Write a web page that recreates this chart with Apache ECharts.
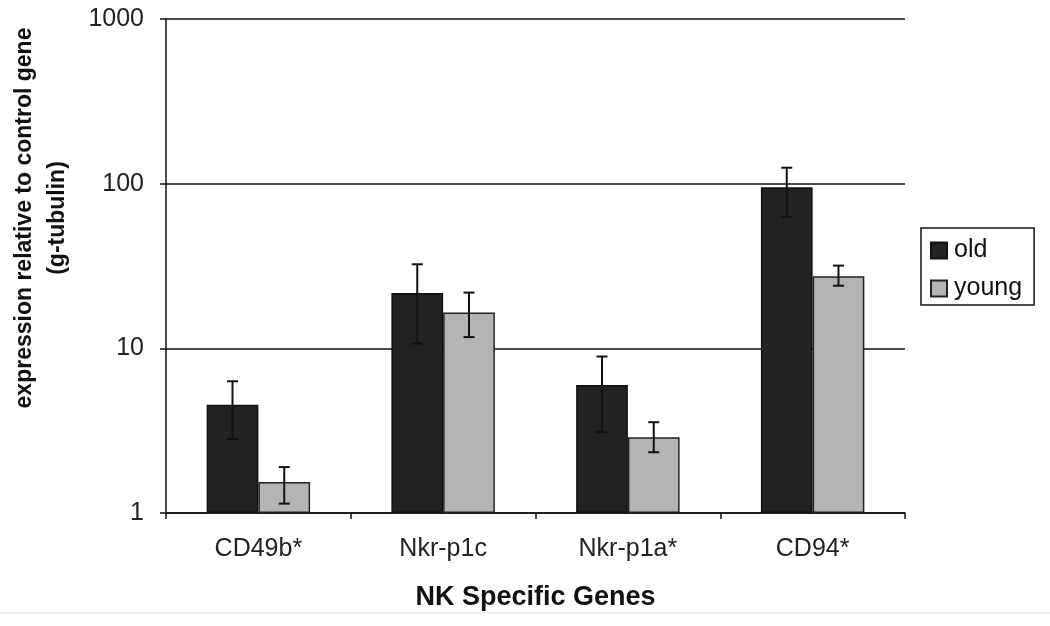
<!DOCTYPE html>
<html>
<head>
<meta charset="utf-8">
<script src="https://cdn.jsdelivr.net/npm/echarts@6/dist/echarts.min.js"></script>
<style>
  html, body { margin: 0; padding: 0; background: #ffffff; }
  #chart { width: 1050px; height: 626px; }
</style>
</head>
<body>
<div id="chart"></div>
<script>
const categories = ['CD49b*', 'Nkr-p1c', 'Nkr-p1a*', 'CD94*'];
const oldValues = [4.55, 21.7, 5.98, 95.1];
const oldLow = [2.81, 10.7, 3.11, 62.9];
const oldHigh = [6.31, 32.4, 8.92, 125];
const youngValues = [1.54, 16.5, 2.88, 27.4];
const youngLow = [1.14, 11.7, 2.34, 24.0];
const youngHigh = [1.90, 21.8, 3.56, 31.8];
const yTicks = [1, 10, 100, 1000];

const FONT = '"Liberation Sans", Arial, sans-serif';
const BAR_CAT_GAP = 0.44;

function errData(low, high) {
  return categories.map((c, i) => [i, low[i], high[i]]);
}

function makeErrRender(sign) {
  return function (params, api) {
    const idx = api.value(0);
    const pLow = api.coord([idx, api.value(1)]);
    const pHigh = api.coord([idx, api.value(2)]);
    const bw = api.coord([1, 10])[0] - api.coord([0, 10])[0];
    const barW = bw * (1 - BAR_CAT_GAP) / 2;
    const x = pLow[0] + sign * barW / 2;
    const cap = 5.5;
    const style = { stroke: '#111111', lineWidth: 2, fill: null };
    return {
      type: 'group',
      children: [
        { type: 'line', shape: { x1: x, y1: pLow[1], x2: x, y2: pHigh[1] }, style: style },
        { type: 'line', shape: { x1: x - cap, y1: pLow[1], x2: x + cap, y2: pLow[1] }, style: style },
        { type: 'line', shape: { x1: x - cap, y1: pHigh[1], x2: x + cap, y2: pHigh[1] }, style: style }
      ]
    };
  };
}

const chart = echarts.init(document.getElementById('chart'), null, { renderer: 'canvas' });
chart.setOption({
  backgroundColor: '#ffffff',
  animation: false,
  grid: { left: 166, right: 145, top: 19, bottom: 113, containLabel: false },
  legend: {
    data: ['old', 'young'],
    orient: 'vertical',
    left: 921,
    top: 228,
    itemWidth: 16,
    itemHeight: 16,
    itemGap: 13,
    padding: [10, 12, 4, 9],
    borderColor: '#111111',
    borderWidth: 1.5,
    textStyle: { fontFamily: FONT, fontSize: 25, color: '#111111', padding: [0, 0, 0, 2] },
    icon: 'rect'
  },
  xAxis: {
    type: 'category',
    data: categories,
    axisLine: { lineStyle: { color: '#111111', width: 1.5 } },
    axisTick: { show: true, length: 6, lineStyle: { color: '#111111', width: 1.5 } },
    axisLabel: { fontFamily: FONT, fontSize: 25, color: '#222222', margin: 24 },
    name: 'NK Specific Genes',
    nameLocation: 'middle',
    nameGap: 71,
    nameTextStyle: { fontFamily: FONT, fontSize: 27, fontWeight: 'bold', color: '#111111' }
  },
  yAxis: {
    type: 'log',
    logBase: 10,
    min: yTicks[0],
    max: yTicks[yTicks.length - 1],
    axisLine: { show: true, lineStyle: { color: '#111111', width: 1.5 } },
    axisTick: { show: true, length: 6, lineStyle: { color: '#111111', width: 1.5 } },
    axisLabel: {
      fontFamily: FONT, fontSize: 25, color: '#222222', margin: 22,
      formatter: function (v) { return String(Math.round(v)); }
    },
    splitLine: { show: true, lineStyle: { color: '#111111', width: 1.5 } },
    minorTick: { show: false }
  },
  series: [
    {
      name: 'old',
      type: 'bar',
      data: oldValues,
      barGap: '0%',
      barCategoryGap: '44%',
      itemStyle: { color: '#232323', borderColor: '#111111', borderWidth: 1.5 }
    },
    {
      name: 'young',
      type: 'bar',
      data: youngValues,
      barGap: '0%',
      barCategoryGap: '44%',
      itemStyle: { color: '#b4b4b4', borderColor: '#222222', borderWidth: 1.5 }
    },
    {
      name: 'oldErr',
      type: 'custom',
      renderItem: makeErrRender(-1),
      data: errData(oldLow, oldHigh),
      encode: { x: 0, y: [1, 2] },
      z: 10,
      silent: true
    },
    {
      name: 'youngErr',
      type: 'custom',
      renderItem: makeErrRender(1),
      data: errData(youngLow, youngHigh),
      encode: { x: 0, y: [1, 2] },
      z: 10,
      silent: true
    }
  ],
  graphic: [
    {
      type: 'text',
      x: 41,
      y: 218,
      rotation: Math.PI / 2,
      style: {
        text: 'expression relative to control gene\n(g-tubulin)',
        fontFamily: FONT,
        fontSize: 23,
        fontWeight: 'bold',
        lineHeight: 33,
        fill: '#111111',
        textAlign: 'center',
        textVerticalAlign: 'middle'
      }
    },
    {
      type: 'line',
      shape: { x1: 0, y1: 613, x2: 1050, y2: 613 },
      style: { stroke: '#eeeeee', lineWidth: 1.5 }
    }
  ]
});
</script>
</body>
</html>
